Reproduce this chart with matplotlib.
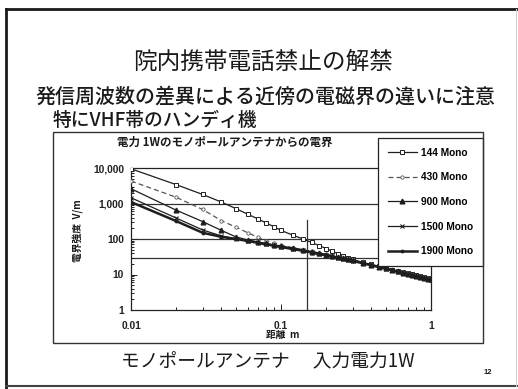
import matplotlib
matplotlib.use("Agg")
import matplotlib.pyplot as plt
from matplotlib.lines import Line2D

W, H = 518, 389
CJK = ["Noto Sans CJK JP", "DejaVu Sans"]
LAT = ["Liberation Sans", "DejaVu Sans"]
plt.rcParams["font.family"] = CJK

# distance (m)
distance = [0.01, 0.02, 0.03, 0.04, 0.05, 0.06, 0.07, 0.08, 0.09, 0.10,
            0.12, 0.14, 0.16, 0.18, 0.20, 0.22, 0.24, 0.26, 0.28, 0.30,
            0.35, 0.40, 0.45, 0.50, 0.55, 0.60, 0.65, 0.70, 0.75, 0.80,
            0.85, 0.90, 0.95, 1.00]

# electric field strength (V/m) for each frequency (MHz)
mono_144 = [9500, 3400, 1800, 1100, 720, 500, 370, 280, 220, 175,
            128, 100, 80, 65, 54, 45, 38.5, 33.5, 29.5, 26.5,
            22, 19.2, 17, 15.2, 13.8, 12.6, 11.6, 10.8, 10.1, 9.4,
            8.9, 8.4, 7.9, 7.5]
mono_430 = [4300, 1500, 680, 330, 215, 150, 112, 90, 76, 67,
            57, 50, 45, 40.5, 37, 34, 31.5, 29.3, 27.4, 25.6,
            22, 19.2, 17, 15.1, 13.7, 12.5, 11.5, 10.7, 10, 9.3,
            8.8, 8.3, 7.8, 7.4]
mono_900 = [2600, 650, 310, 175, 115, 94, 83, 75, 68.5, 63.5,
            55.5, 49, 44, 40, 36.5, 33.5, 31, 29, 27, 25.3,
            21.7, 18.9, 16.7, 14.9, 13.5, 12.3, 11.3, 10.5, 9.8, 9.2,
            8.6, 8.1, 7.7, 7.3]
mono_1500 = [1450, 390, 180, 122, 102, 90, 80, 72, 66, 61,
             53.5, 47.5, 42.5, 38.5, 35.5, 32.5, 30, 28, 26.3, 24.6,
             21.2, 18.5, 16.4, 14.7, 13.3, 12.1, 11.1, 10.3, 9.7, 9.1,
             8.5, 8.0, 7.6, 7.2]
mono_1900 = [1100, 320, 150, 115, 100, 88, 78, 70.5, 64.5, 59.5,
             52, 46.5, 41.5, 37.5, 34.5, 32, 29.5, 27.5, 25.8, 24.2,
             20.8, 18.2, 16.1, 14.4, 13.1, 11.9, 11, 10.2, 9.5, 8.9,
             8.4, 7.9, 7.5, 7.1]

series_labels = ["144 Mono", "430 Mono", "900 Mono", "1500 Mono", "1900 Mono"]
y_ticks = [1, 10, 100, 1000, 10000]
y_ticklabels = ["1", "10", "100", "1,000", "10,000"]
x_ticks = [0.01, 0.1, 1]
x_ticklabels = ["0.01", "0.1", "1"]
ref_levels = [1000, 100, 30]
ref_distance = 0.15

fig = plt.figure(figsize=(W / 100, H / 100), dpi=100)
fig.patch.set_facecolor("white")


def fx(px):
    return px / W


def fy(py):
    return 1 - py / H


# slide frame
ink = "#1a1a1a"
fig.add_artist(Line2D([fx(6), fx(518)], [fy(9), fy(9)], color=ink, lw=2.0))
fig.add_artist(Line2D([fx(6), fx(6)], [fy(9), fy(389)], color=ink, lw=2.0))
fig.add_artist(Line2D([fx(6), fx(518)], [fy(386), fy(386)], color="#444", lw=1.5))
fig.add_artist(Line2D([fx(516), fx(516)], [fy(9), fy(386)], color="#cfcfcf", lw=0.8))

# headings
fig.text(fx(263), fy(62), "院内携帯電話禁止の解禁", ha="center", va="center",
         fontsize=17, color=ink)
fig.text(fx(35), fy(97), "発信周波数の差異による近傍の電磁界の違いに注意",
         ha="left", va="center", fontsize=14.4, color=ink, fontweight="medium")
fig.text(fx(53), fy(120), "特にVHF帯のハンディ機", ha="left", va="center",
         fontsize=13.5, color=ink, fontweight="medium")

# chart box
fig.add_artist(plt.Rectangle((fx(53), fy(343)), fx(483) - fx(53), fy(132) - fy(343),
                             fill=False, ec="#333", lw=1.0))
fig.text(fx(117), fy(142), "電力 1Wのモノポールアンテナからの電界", ha="left",
         va="center", fontsize=8.3, fontweight="bold", color=ink)

ax = fig.add_axes([fx(131), fy(310), fx(431) - fx(131), fy(168) - fy(310)])
ax.set_xscale("log")
ax.set_yscale("log")
ax.set_xlim(0.01, 1)
ax.set_ylim(1, 10000)

for lvl in ref_levels:
    ax.axhline(lvl, color="#333", lw=0.9, zorder=1)
ax.plot([ref_distance, ref_distance], [1, 340], color="#333", lw=0.9, zorder=1)

line_kw = dict(color="#1e1e1e", zorder=3)
ax.plot(distance, mono_144, marker="s", ms=3.4, mfc="white", mec="#1e1e1e",
        mew=0.7, lw=0.9, label=series_labels[0], **line_kw)
ax.plot(distance, mono_430, marker="o", ms=2.4, mfc="white", mec="#555",
        mew=0.6, lw=0.9, ls=(0, (4, 2.5)), label=series_labels[1],
        color="#555", zorder=3)
ax.plot(distance, mono_900, marker="^", ms=3.4, lw=0.9,
        label=series_labels[2], **line_kw)
ax.plot(distance, mono_1500, marker="x", ms=3.4, mew=0.8, lw=0.9,
        label=series_labels[3], **line_kw)
ax.plot(distance, mono_1900, marker=".", ms=3.5, lw=1.8,
        label=series_labels[4], **line_kw)

ax.set_yticks(y_ticks)
ax.set_yticklabels(y_ticklabels)
ax.set_xticks(x_ticks)
ax.set_xticklabels(x_ticklabels)
ax.tick_params(which="both", direction="in", colors="#222", width=0.7)
ax.tick_params(axis="y", which="major", length=4, pad=5)
ax.tick_params(axis="x", which="major", length=4, pad=8)
ax.tick_params(which="minor", length=2.5)
for lab in ax.get_xticklabels() + ax.get_yticklabels():
    lab.set_family(LAT)
    lab.set_fontweight("bold")
    lab.set_fontsize(7.4)
for sp in ax.spines.values():
    sp.set_color("#222")
    sp.set_linewidth(0.9)

fig.text(fx(283), fy(335), "距離  m", ha="center", va="center", fontsize=7,
         fontweight="bold", color=ink)
fig.text(fx(78), fy(231), "電界強度  V/m", ha="center", va="center", fontsize=7,
         fontweight="bold", rotation=90, color=ink)

leg = ax.legend(loc="upper left", bbox_to_anchor=(fx(378), fy(138)),
                bbox_transform=fig.transFigure, frameon=True, fancybox=False,
                edgecolor="#222", framealpha=1, handlelength=2.9,
                handletextpad=0.4, labelspacing=1.45, borderpad=0.95,
                borderaxespad=0, prop={"family": LAT, "weight": "bold", "size": 7.3})
leg.get_frame().set_linewidth(0.9)
leg.set_zorder(10)

fig.text(fx(268), fy(362), "モノポールアンテナ　 入力電力1W", ha="center",
         va="center", fontsize=13.5, color=ink)
fig.text(fx(488), fy(372), "12", ha="center", va="center", fontsize=5.5,
         fontweight="bold", family=LAT, color=ink)

fig.savefig("out.png", dpi=100, facecolor="white")
